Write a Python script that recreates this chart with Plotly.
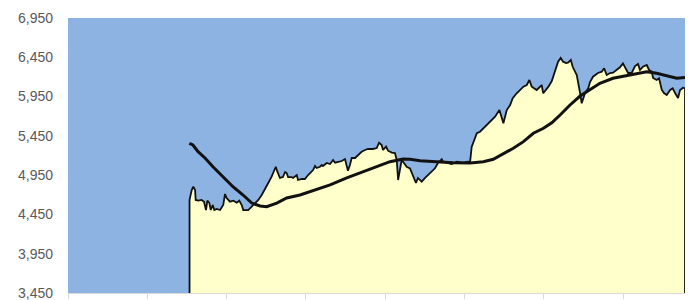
import plotly.graph_objects as go

# ---- data ----
price_day = [61.3, 62.4, 63.2, 64.1, 64.4, 65.7, 67.4, 68.6, 69.1, 69.6, 70.3, 71.3, 72.0, 73.0, 73.8,
             75.0, 76.7, 78.3, 79.2, 80.0, 81.7, 83.4, 85.1, 86.4, 87.6, 88.4, 90.9, 92.7, 94.3, 96.0,
             97.7, 99.4, 101.0, 102.7, 103.9, 104.8, 105.6, 106.9, 108.4, 109.5, 110.3, 111.0, 112.8,
             113.5, 115.4, 116.0, 117.9, 119.5, 121.1, 122.9, 123.6, 124.6, 125.4, 127.1, 128.0, 128.6,
             130.5, 132.2, 133.0, 133.7, 134.7, 136.2, 138.1, 139.7, 140.6, 141.2, 142.2, 143.1, 144.8,
             146.3, 148.1, 149.8, 151.3, 153.8, 155.7, 156.9, 158.2, 158.9, 160.4, 161.4, 163.3, 164.9,
             165.8, 166.5, 167.5, 168.3, 169.0, 170.8, 172.5, 174.0, 175.5, 176.5, 178.4, 180.1, 182.6,
             185.1, 186.6, 188.5, 189.2, 191.0, 193.5, 196.1, 199.2, 201.8, 202.8, 203.6, 206.2, 207.8,
             210.3, 212.9, 215.4, 217.6, 219.6, 221.3, 223.0, 224.3, 226.3, 229.7, 231.4, 232.7, 233.9,
             236.4, 238.9, 239.7, 242.3, 244.0, 245.6, 247.2, 248.5, 249.7, 251.2, 252.2, 253.6, 254.6,
             256.6, 257.8, 258.3, 259.1, 260.8, 262.4, 263.3, 264.8, 267.3, 269.2, 270.4, 271.7, 273.4,
             274.9, 276.8, 278.4, 279.9, 281.5, 282.5, 284.3, 286.0, 287.5, 288.5, 290.0, 291.9, 293.1,
             294.4, 295.1, 296.9, 298.1, 299.5, 300.6, 302.0, 303.7, 305.0, 306.2, 307.7, 308.7, 310.2,
             311.2]
price = [4635, 4761, 4803, 4761, 4634, 4625, 4634, 4612, 4532, 4506, 4625, 4595, 4506, 4570, 4506,
         4519, 4506, 4570, 4710, 4659, 4612, 4625, 4599, 4625, 4570, 4506, 4506, 4548, 4583, 4634,
         4697, 4786, 4850, 4930, 5015, 5057, 4994, 4914, 4926, 4990, 4977, 4926, 4926,
         4914, 4952, 4888, 4901, 4901, 4952, 4994, 5015, 5066, 5041, 5057, 5079, 5066,
         5105, 5092, 5121, 5143, 5108, 5121, 5130, 5155, 5057, 5007, 5079, 5168, 5168,
         5206, 5248, 5270, 5283, 5283, 5295, 5363, 5334, 5270, 5312, 5261, 5236, 5232,
         5143, 4888, 5057, 5143, 5121, 5057, 5037, 4952, 4850, 4914, 4867, 4914, 4977,
         5037, 5105, 5152, 5121, 5108, 5092, 5121, 5108, 5121, 5117, 5308, 5483, 5503,
         5567, 5630, 5694, 5779, 5610, 5779, 5843, 5928, 5992, 6076, 6097, 6161, 6076,
         6034, 6097, 5992, 6076, 6148, 6288, 6394, 6441, 6394, 6377, 6381, 6415, 6326,
         6224, 6076, 5992, 5864, 5995, 6055, 6135, 6203, 6250, 6267, 6310, 6224, 6250,
         6254, 6288, 6323, 6373, 6288, 6250, 6250, 6339, 6365, 6288, 6330, 6352, 6288,
         6267, 6186, 6161, 6183, 6034, 5995, 5970, 6034, 6055, 5995, 5932, 6034, 6063,
         6055]

ma_day = [61.2, 63.0, 65.6, 69.1, 73.1, 78.2, 83.2, 88.3, 92.7, 96.9, 100.2, 105.3, 110.3, 117.0,
          123.6, 132.2, 140.6, 148.8, 155.7, 162.4, 169.0, 172.5, 177.6, 186.0, 194.2, 202.8, 209.5,
          214.5, 219.6, 224.6, 229.7, 234.7, 239.8, 244.0, 248.2, 253.2, 258.3, 263.3, 268.3, 274.9,
          283.5, 291.9, 296.9, 302.0, 307.0, 311.2]
ma = [5355, 5334, 5248, 5168, 5057, 4930, 4803, 4697, 4595, 4557, 4548, 4595, 4659, 4697,
      4752, 4825, 4914, 4994, 5057, 5121, 5155, 5152, 5134, 5121, 5108, 5105, 5121,
      5152, 5219, 5292, 5376, 5483, 5546, 5617, 5715, 5843, 5957, 6034, 6119, 6183,
      6224, 6267, 6246, 6212, 6183, 6193]

Y_MIN, Y_MAX, Y_STEP = 3450, 6950, 500
X_TICKS = [0, 40, 80, 120, 160, 200, 240, 280]

# ---- figure ----
fig = go.Figure()

# filled price area, closed down to the axis floor at both ends
fig.add_trace(go.Scatter(
    x=[price_day[0]] + price_day + [price_day[-1]],
    y=[Y_MIN] + price + [Y_MIN],
    mode="lines",
    line=dict(color="#111111", width=1.8),
    fill="tozeroy",
    fillcolor="#FFFFCC",
    hoverinfo="skip",
    showlegend=False,
))

fig.add_trace(go.Scatter(
    x=ma_day, y=ma,
    mode="lines",
    line=dict(color="#111111", width=3),
    showlegend=False,
))

fig.update_layout(
    width=694, height=300,
    margin=dict(l=68, r=9, t=18, b=7),
    paper_bgcolor="white",
    plot_bgcolor="#8DB3E2",
    font=dict(family="Liberation Sans, Arial, sans-serif", size=14, color="#595959"),
)

fig.update_xaxes(
    range=[0, price_day[-1]],
    tickvals=X_TICKS,
    showticklabels=False,
    ticks="outside", ticklen=5, tickcolor="#D9D9D9", tickwidth=1,
    showline=True, linecolor="#D9D9D9", linewidth=1,
    showgrid=False, zeroline=False, automargin=False,
)

fig.update_yaxes(
    range=[Y_MIN, Y_MAX],
    tickvals=list(range(Y_MIN, Y_MAX + 1, Y_STEP)),
    tickformat=",",
    ticks="", ticklabelstandoff=14, ticklabeloverflow="allow",
    showgrid=False, zeroline=False, showline=False, automargin=False,
)

fig.write_html("out.html", post_script="document.body.style.margin='0';",
               config={"displayModeBar": False})
